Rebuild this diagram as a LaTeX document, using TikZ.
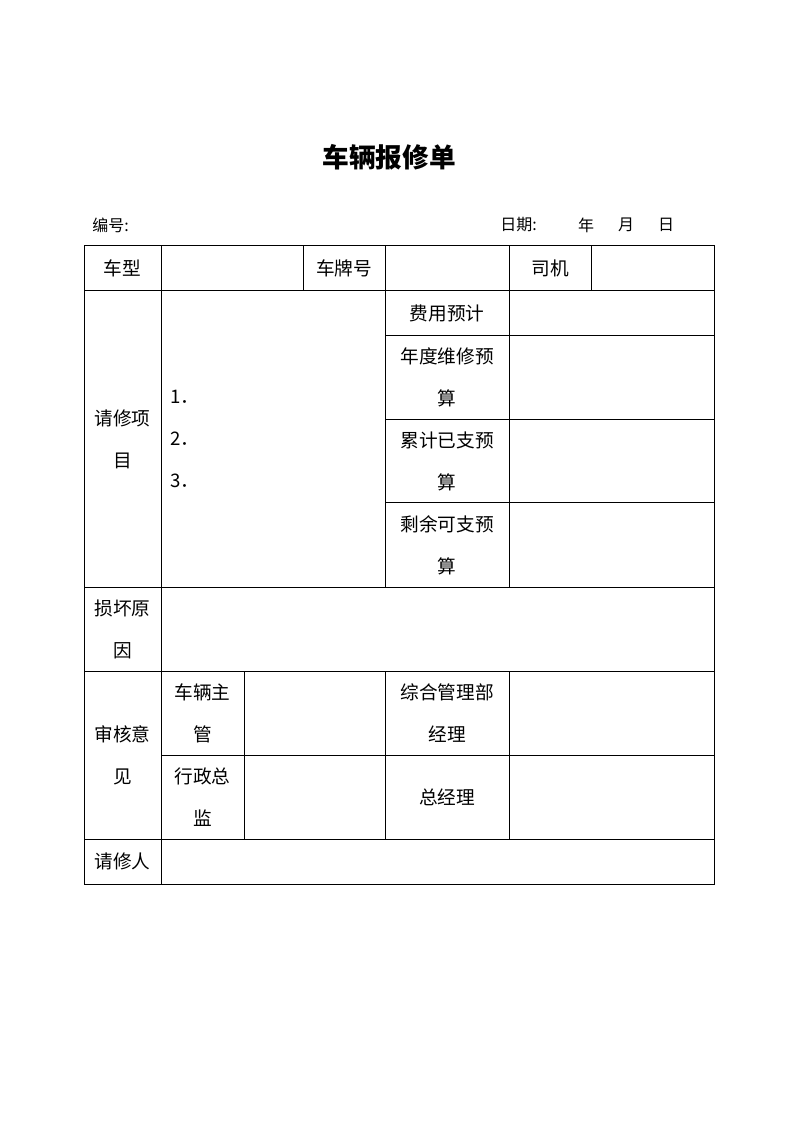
\documentclass[tikz,border=0pt]{standalone}
\usepackage{fontspec}
\setmainfont{Noto Sans CJK SC}
\begin{document}
\begin{tikzpicture}[x=0.75pt, y=-0.75pt,
    grid/.style={line width=0.75pt},
    cell/.style={font=\fontsize{14}{31.5}\selectfont, align=center, inner sep=0pt},
    head/.style={font=\fontsize{12}{14}\selectfont, inner sep=0pt}]
        \useasboundingbox (0, 0) rectangle (794, 1123);
        \node [font=\fontsize{20}{24}\selectfont\bfseries] (title) at (389, 157) {车辆报修单};
        \node [head, anchor=west] (num) at (92, 225) {编号:};
        \node [head, anchor=west] (date) at (500, 225) {日期:};
        \node [head] (year) at (586, 225) {年};
        \node [head] (month) at (626, 225) {月};
        \node [head] (day) at (666, 225) {日};
        % table lines
        \draw [grid] (84, 245) rectangle (714, 884);
        \draw [grid] (84, 290) -- (714, 290);
        \draw [grid] (385, 335) -- (714, 335);
        \draw [grid] (385, 419) -- (714, 419);
        \draw [grid] (385, 502) -- (714, 502);
        \draw [grid] (84, 587) -- (714, 587);
        \draw [grid] (84, 671) -- (714, 671);
        \draw [grid] (161, 755) -- (714, 755);
        \draw [grid] (84, 839) -- (714, 839);
        \draw [grid] (161, 245) -- (161, 884);
        \draw [grid] (303, 245) -- (303, 290);
        \draw [grid] (591, 245) -- (591, 290);
        \draw [grid] (385, 245) -- (385, 587);
        \draw [grid] (509, 245) -- (509, 587);
        \draw [grid] (244, 671) -- (244, 839);
        \draw [grid] (385, 671) -- (385, 839);
        \draw [grid] (509, 671) -- (509, 839);
        % cell texts
        \node [cell] (type) at (122.5, 268) {车型};
        \node [cell] (plate) at (344, 268) {车牌号};
        \node [cell] (driver) at (550, 268) {司机};
        \node [cell] (items) at (122.5, 439) {请修项\\目};
        \node [cell, anchor=west] (one) at (170, 397) {1．};
        \node [cell, anchor=west] (two) at (170, 439) {2．};
        \node [cell, anchor=west] (three) at (170, 481) {3．};
        \node [cell] (cost) at (447, 313) {费用预计};
        \node [cell] (annual) at (447, 377) {年度维修预\\算};
        \node [cell] (spent) at (447, 461) {累计已支预\\算};
        \node [cell] (left) at (447, 545) {剩余可支预\\算};
        \node [cell] (cause) at (122.5, 629) {损坏原\\因};
        \node [cell] (review) at (122.5, 755) {审核意\\见};
        \node [cell] (fleet) at (202.5, 713) {车辆主\\管};
        \node [cell] (admin) at (202.5, 797) {行政总\\监};
        \node [cell] (office) at (447, 713) {综合管理部\\经理};
        \node [cell] (gm) at (447, 797) {总经理};
        \node [cell] (applicant) at (122.5, 861) {请修人};
    \end{tikzpicture}
\end{document}
